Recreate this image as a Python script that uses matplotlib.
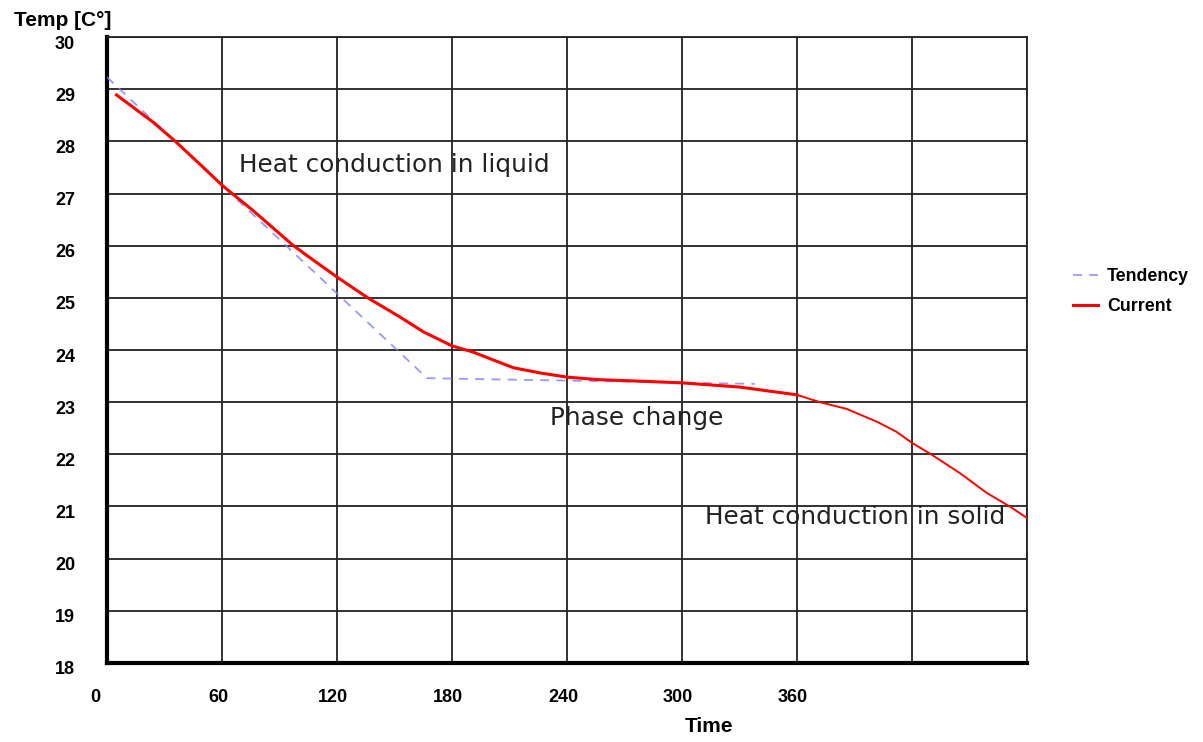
import matplotlib
matplotlib.use("Agg")
import matplotlib.pyplot as plt
import matplotlib.transforms as mtransforms

# Cooling curve data (time in s, temperature in C)
tendency_t = [0, 167, 338]
tendency_T = [29.23, 23.46, 23.35]

current_t = [5, 24, 36, 50, 60, 76, 97, 104, 120, 130, 137, 153, 165, 180, 191,
             212, 226, 240, 257, 280, 300, 330, 360, 372, 386, 402, 412, 420, 430,
             445, 459, 471, 480]
current_T = [28.89, 28.37, 27.99, 27.51, 27.16, 26.68, 26.01, 25.82, 25.40, 25.15,
             24.98, 24.63, 24.35, 24.08, 23.96, 23.66, 23.56, 23.48, 23.43, 23.40,
             23.37, 23.29, 23.14, 23.00, 22.87, 22.62, 22.43, 22.22, 22.00, 21.64,
             21.26, 21.00, 20.78]

x_ticks = [0, 60, 120, 180, 240, 300, 360, 420, 480]
x_labels = ["0", "60", "120", "180", "240", "300", "360", "", ""]
y_ticks = list(range(18, 31))

notes = [(69, 27.55, "Heat conduction in liquid"),
         (231, 22.70, "Phase change"),
         (312, 20.80, "Heat conduction in solid")]

fig = plt.figure(figsize=(12.03, 7.42), dpi=100)
ax = fig.add_axes([0.0889, 0.1065, 0.7648, 0.8436])

ax.plot(tendency_t, tendency_T, color="#7f7fff", lw=1.3, ls=(0, (5, 4)),
        alpha=0.8, label="Tendency", zorder=3)
split = current_t.index(360) + 1
ax.plot(current_t[:split], current_T[:split], color="red", lw=2.2,
        label="Current", zorder=4)
ax.plot(current_t[split - 1:], current_T[split - 1:], color="red", lw=1.4, zorder=4)

for x, y, s in notes:
    ax.text(x, y, s, fontsize=17.8, family="DejaVu Sans", color="#222222",
            va="center", ha="left", zorder=5)

ax.set_xlim(0, 480)
ax.set_ylim(18, 30)
ax.set_xticks(x_ticks)
ax.set_xticklabels(x_labels)
ax.set_yticks(y_ticks)
ax.grid(True, color="#222222", lw=1.3)
ax.tick_params(length=0, labelsize=13)
ax.tick_params(axis="x", pad=19)
ax.tick_params(axis="y", pad=23)

for i, lab in enumerate(ax.get_xticklabels()):
    lab.set_fontfamily("Liberation Sans")
    lab.set_fontweight("bold")
    dx = -12 if i == 0 else -4
    lab.set_transform(lab.get_transform() +
                      mtransforms.ScaledTranslation(dx / 100, 0, fig.dpi_scale_trans))
for lab in ax.get_yticklabels():
    lab.set_fontfamily("Liberation Sans")
    lab.set_fontweight("bold")
    lab.set_transform(lab.get_transform() +
                      mtransforms.ScaledTranslation(0, -5 / 100, fig.dpi_scale_trans))

for side in ["left", "bottom"]:
    ax.spines[side].set_linewidth(3)
for side in ["top", "right"]:
    ax.spines[side].set_linewidth(1.3)
    ax.spines[side].set_color("#222222")

fig.text(14 / 1203, 1 - 20 / 742, "Temp [C°]", fontsize=15, fontweight="bold",
         family="Liberation Sans", va="center", ha="left")
fig.text(709 / 1203, 1 - 727 / 742, "Time", fontsize=15, fontweight="bold",
         family="Liberation Sans", va="center", ha="center")

leg = ax.legend(loc="center left", bbox_to_anchor=(1.033, 0.593), frameon=False,
                handlelength=1.4, handletextpad=0.5, labelspacing=0.75,
                prop={"family": "Liberation Sans", "weight": "bold", "size": 12.8})

fig.savefig("out.png", dpi=100, facecolor="white")
